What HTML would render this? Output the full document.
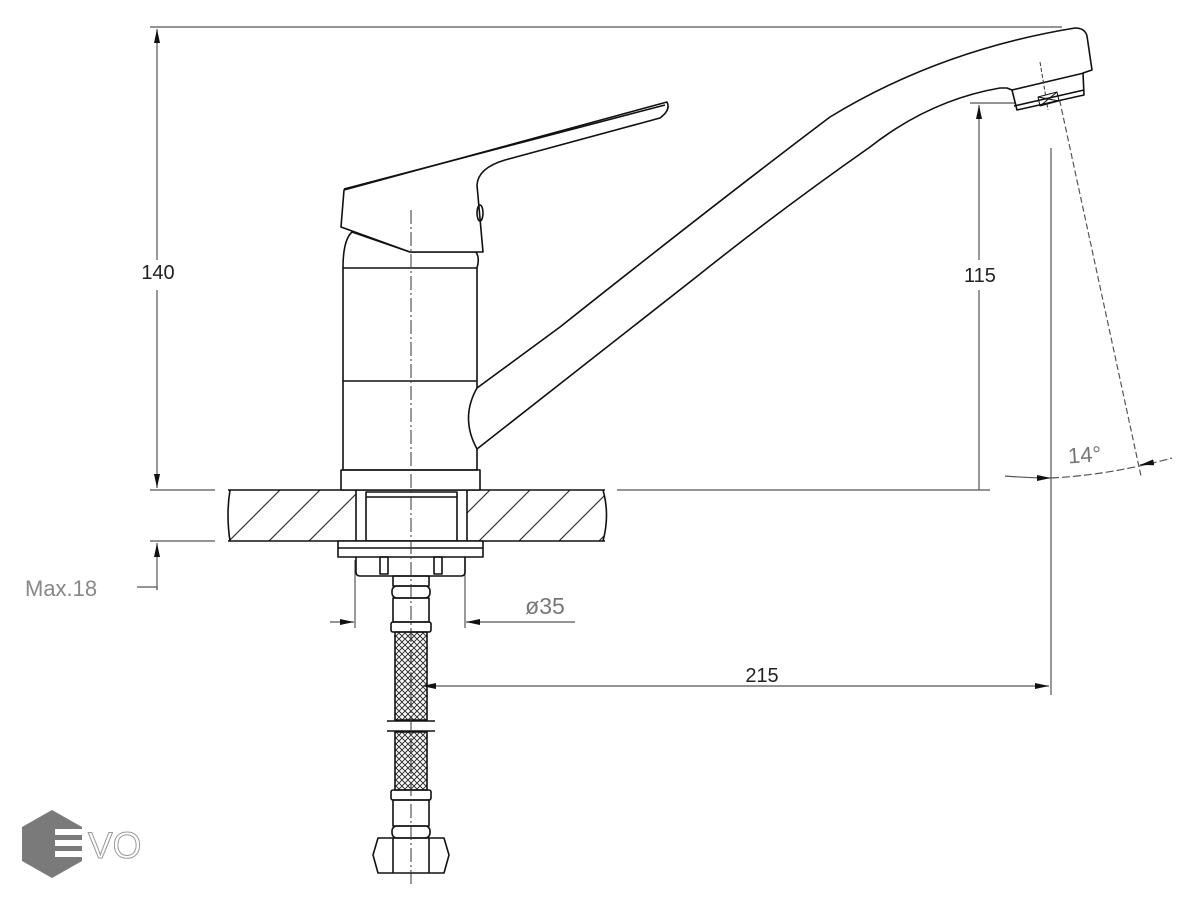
<!DOCTYPE html>
<html><head><meta charset="utf-8"><style>
html,body{margin:0;padding:0;background:#fff}
svg{display:block}
text{font-family:"Liberation Sans","DejaVu Sans",sans-serif}
</style></head><body>
<svg width="1191" height="900" viewBox="0 0 1191 900" xmlns="http://www.w3.org/2000/svg">
<defs>
<marker id="a" markerWidth="14" markerHeight="8" refX="14" refY="4" orient="auto" markerUnits="userSpaceOnUse"><path d="M0,1 L14,4 L0,7 z" fill="#111"/></marker>
<clipPath id="slab"><rect x="228" y="490" width="377" height="51"/></clipPath>
<pattern id="mesh" width="6" height="6" patternUnits="userSpaceOnUse"><path d="M0,0 L6,6 M6,0 L0,6" stroke="#333" stroke-width="1"/></pattern>
</defs>
<g stroke="#555" stroke-width="1.2" fill="none">
<line x1="150" y1="27" x2="1062" y2="27"/>
<line x1="157" y1="260" x2="157" y2="29" marker-end="url(#a)"/>
<line x1="157" y1="290" x2="157" y2="488" marker-end="url(#a)"/>
<line x1="150" y1="490" x2="215" y2="490"/>
<line x1="150" y1="541" x2="215" y2="541"/>
<line x1="157" y1="590" x2="157" y2="543" marker-end="url(#a)"/>
<polyline points="157,590 157,587 137,587"/>
<line x1="617" y1="490" x2="990" y2="490"/>
<line x1="970" y1="103" x2="1035" y2="103"/>
<line x1="979" y1="260" x2="979" y2="105" marker-end="url(#a)"/>
<line x1="979" y1="290" x2="979" y2="490"/>
<line x1="1051" y1="148" x2="1051" y2="695"/>
<line x1="1052" y1="65" x2="1141" y2="476" stroke-dasharray="6,3"/>
<path d="M1005,476 Q1030,478 1051,478" marker-end="url(#a)"/>
<path d="M1051,478 Q1110,475 1172,458" stroke-dasharray="8,3"/>
<line x1="1150" y1="463" x2="1140" y2="465" marker-end="url(#a)"/>
<line x1="760" y1="686" x2="422" y2="686" marker-end="url(#a)"/>
<line x1="760" y1="686" x2="1049" y2="686" marker-end="url(#a)"/>
<line x1="355" y1="560" x2="355" y2="628"/>
<line x1="465" y1="560" x2="465" y2="628"/>
<line x1="330" y1="622" x2="354" y2="622" marker-end="url(#a)"/>
<line x1="575" y1="622" x2="466" y2="622" marker-end="url(#a)"/>
</g>
<text x="158" y="279" font-size="20" text-anchor="middle" style="fill:#222">140</text>
<text x="980" y="282" font-size="20" text-anchor="middle" style="fill:#222">115</text>
<text x="762" y="682" font-size="20" text-anchor="middle" style="fill:#222">215</text>
<text x="545" y="614" font-size="23" text-anchor="middle" style="fill:#777">ø35</text>
<text x="25" y="596" font-size="22" style="fill:#888">Max.18</text>
<text x="1068" y="462" font-size="22" style="fill:#777" transform="rotate(-4 1090 455)">14°</text>

<g stroke="#111" stroke-width="1.6" fill="none" stroke-linejoin="round">
<g clip-path="url(#slab)" stroke="#333" stroke-width="1.2">
<path d="M200,570 L300,470 M240,570 L340,470 M280,570 L380,470 M450,570 L550,470 M490,570 L590,470 M530,570 L630,470 M570,570 L670,470 M410,570 L510,470"/>
</g>
<line x1="228" y1="490" x2="605" y2="490"/>
<line x1="228" y1="541" x2="605" y2="541"/>
<path d="M230,490 Q226,515 230,541"/>
<path d="M603,490 Q610,515 603,541"/>
<rect x="356" y="490" width="111" height="51" fill="#fff"/>
<rect x="366" y="492" width="91" height="49"/>
<line x1="366" y1="497" x2="457" y2="497"/>
<rect x="338" y="541" width="145" height="16" fill="#fff"/>
<line x1="338" y1="548" x2="483" y2="548"/>
<path d="M356,557 L356,572 Q356,576 360,576 L461,576 Q465,576 465,572 L465,557"/>
<rect x="380" y="557" width="8" height="17"/>
<rect x="434" y="557" width="8" height="17"/>
<rect x="393" y="576" width="36" height="10"/>
<rect x="392" y="586" width="38" height="12" rx="5"/>
<rect x="393" y="598" width="36" height="24"/>
<rect x="391" y="622" width="40" height="10" rx="2"/>
<rect x="395" y="632" width="32" height="88" fill="url(#mesh)"/>
<line x1="387" y1="721" x2="435" y2="721"/>
<line x1="387" y1="731" x2="435" y2="731"/>
<rect x="395" y="732" width="32" height="58" fill="url(#mesh)"/>
<rect x="391" y="790" width="40" height="10" rx="2"/>
<rect x="393" y="800" width="36" height="26"/>
<rect x="392" y="826" width="38" height="12" rx="5"/>
<path d="M378,838 L444,838 L449,855 L444,873 L378,873 L373,855 Z"/>
<line x1="393" y1="838" x2="393" y2="873"/><line x1="429" y1="838" x2="429" y2="873"/>
<rect x="341" y="470" width="139" height="20" fill="#fff"/>
<rect x="343" y="268" width="134" height="202"/>
<line x1="343" y1="381" x2="477" y2="381"/>
<path d="M343,268 Q343,240 352,232 L410,252 L476,252 Q480,258 477,268"/>
<path d="M344,190 L667,102 Q671,110 660,118 L505,160 Q478,168 477,185 L483,252 L410,252 L341,227 Z" fill="#fff"/>
<line x1="344" y1="189" x2="665" y2="105"/>
<ellipse cx="480" cy="213" rx="3" ry="8"/>
<path d="M477,388 L560,327 Q720,200 830,117 Q940,50 1075,28 Q1085,28 1087,36 L1092,70 L1083,73 L1084,95 L1017,110 L1012,90 L1007,88 L1000,88 Q930,100 870,147 Q780,210 695,278 L477,449 Q460,418 477,388 Z" fill="#fff"/>
<line x1="1012" y1="90" x2="1084" y2="73"/>
<line x1="1014" y1="106" x2="1084" y2="90"/>
<path d="M1038,97 L1057,92 L1059,101 L1040,106 Z M1038,97 L1059,101 M1057,92 L1040,106" stroke-width="1"/>
</g>
<line x1="411" y1="210" x2="411" y2="885" stroke="#333" stroke-width="1" stroke-dasharray="14,3,2,3"/>
<line x1="1040" y1="62" x2="1048" y2="110" stroke="#333" stroke-width="1" stroke-dasharray="4,2"/>
<polygon points="52,810 82,827 82,861 52,878 22,861 22,827" fill="#7a7a7a"/>
<rect x="55" y="829" width="29" height="6" fill="#fff"/>
<rect x="55" y="840" width="29" height="6" fill="#fff"/>
<rect x="55" y="851" width="29" height="6" fill="#fff"/>
<text x="88" y="858" font-size="37" style="fill:#fff;stroke:#999;stroke-width:1">VO</text>
</svg>
</body></html>
